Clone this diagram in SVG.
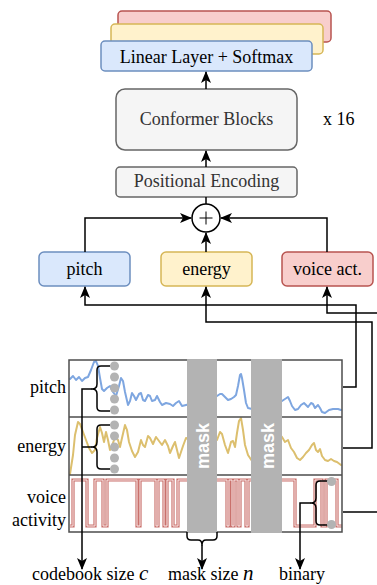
<svg xmlns="http://www.w3.org/2000/svg" width="377" height="585" viewBox="0 0 377 585">
  <style>
    .t { font-family: "Liberation Serif", "Times New Roman", serif; font-size: 18px; fill: #000; }
    .tc { text-anchor: middle; }
    .grey { fill: #333333; }
    .math { font-style: italic; font-size: 21px; }
    .box-blue { fill: #dae8fc; stroke: #6c8ebf; stroke-width: 1.5; }
    .box-yellow { fill: #fff2cc; stroke: #d6b656; stroke-width: 1.5; }
    .box-red { fill: #f8cecc; stroke: #b85450; stroke-width: 1.5; }
    .box-grey { fill: #f5f5f5; stroke: #666666; stroke-width: 1.5; }
    .wire { fill: none; stroke: #000; stroke-width: 1.5; }
    .arrow { fill: none; stroke: #000; stroke-width: 1.5; marker-end: url(#tip); }
    .brace { fill: none; stroke: #000; stroke-width: 1.5; stroke-linejoin: round; }
    .dot { fill: #b3b3b3; }
    .curve { fill: none; stroke-width: 2; stroke-linejoin: round; stroke-linecap: round; }
    .bar { fill: #b3b3b3; }
    .masktxt { font-family: "Liberation Sans", Arial, sans-serif; font-weight: bold; font-size: 18px; fill: #fff; text-anchor: middle; }
  </style>
  <defs>
    <marker id="tip" viewBox="0 0 12 10" markerWidth="12" markerHeight="10" refX="11" refY="5" orient="auto" markerUnits="userSpaceOnUse">
      <path d="M0,0 L12,5 L0,10 L3,5 Z" fill="#000"/>
    </marker>
    <clipPath id="plotClip">
      <rect x="69" y="360" width="273" height="172"/>
    </clipPath>
    <path id="vaWave" d="M70,526 H73 V480 H87 V526 H95 V480 H103 V526 H107 V480 H137 V526 H140 V480 H156 V526 H158 V480 H164 V526 H167 V480 H173 V526 H178 V480 H190 M214,480 H227 V526 H229 V480 H232 V526 H234 V480 H238 V526 H240 V480 H246 V526 H248 V480 H254 M279,480 H295 V526 H315 V480 H322 V526 H326 V480 H337 V526 H342"/>
  </defs>

  <!-- output heads (stacked) -->
  <g id="head-stack">
    <rect class="box-red" x="118" y="11" width="213" height="31" rx="4"/>
    <rect class="box-yellow" x="111" y="24" width="212" height="30" rx="4"/>
  </g>
  <g id="linear-softmax">
    <rect class="box-blue" x="101" y="41" width="211" height="30" rx="4"/>
    <text class="t tc" x="206.5" y="62.5">Linear Layer + Softmax</text>
  </g>

  <g id="conformer">
    <rect class="box-grey" x="116" y="89" width="181" height="61" rx="9"/>
    <text class="t tc grey" x="206.5" y="125">Conformer Blocks</text>
  </g>
  <text id="repeat" class="t" x="323" y="125">x 16</text>

  <g id="posenc">
    <rect class="box-grey" x="116" y="167" width="181" height="30" rx="4"/>
    <text class="t tc grey" x="206.5" y="187">Positional Encoding</text>
  </g>

  <g id="sum">
    <circle cx="206" cy="218" r="14" fill="#fff" stroke="#000" stroke-width="1.5"/>
    <path d="M199.5,218 H212.5 M206,211.5 V224.5" stroke="#000" stroke-width="1" fill="none"/>
  </g>

  <g id="pitch-emb">
    <rect class="box-blue" x="39" y="252" width="91" height="34" rx="5"/>
    <text class="t tc" x="84.5" y="275">pitch</text>
  </g>
  <g id="energy-emb">
    <rect class="box-yellow" x="161" y="252" width="91" height="34" rx="5"/>
    <text class="t tc" x="206.5" y="275">energy</text>
  </g>
  <g id="voice-emb">
    <rect class="box-red" x="282" y="252" width="91" height="34" rx="5"/>
    <text class="t tc" x="327.5" y="275">voice act.</text>
  </g>

  <!-- feature plot -->
  <g id="plot">
    <rect x="69" y="360" width="273" height="172" fill="#fff"/>
    <g clip-path="url(#plotClip)">
      <polyline class="curve" stroke="#7ea6e0" points="70,379 73,376 76,380 79,377 82,381 85,378 88,377 91,370 94,362 96,361 98,366 100,378 102,389 104,391 107,388 110,386 113,392 116,396 119,386 121,378 123,381 125,392 128,405 130,401 132,393 134,396 136,400 139,394 141,393 143,400 145,401 148,395 150,396 152,401 155,400 157,396 160,402 162,405 166,403 170,404 173,406 176,403 179,401 182,406 186,405 190,404 214,398 217,396 220,394 222,394 225,397 228,400 231,399 234,397 236,395 238,386 240,375 241,374 242,378 244,390 246,403 248,408 252,409 279,402 282,401 285,399 288,397 290,401 292,406 295,410 298,409 301,405 304,403 306,405 308,407 311,403 313,404 315,408 318,405 320,408 322,412 325,413 329,410 333,409 338,409 341,410"/>
      <polyline class="curve" stroke="#dcbf6e" points="70,474 73,455 75,435 78,422 80,424 83,432 86,440 89,448 92,453 95,450 97,438 100,427 102,433 104,442 106,432 108,440 110,450 112,446 115,437 118,440 120,447 122,438 125,425 127,430 129,442 132,451 135,457 138,452 141,440 143,445 145,447 148,436 150,438 153,444 156,437 159,441 162,445 165,440 168,446 170,453 173,446 175,442 177,450 179,458 181,452 183,446 186,438 190,440 214,436 217,440 220,432 222,434 225,445 228,453 231,442 233,441 235,447 237,433 239,421 241,418 243,430 245,445 248,455 252,461 279,434 282,437 285,442 288,440 291,448 294,452 297,458 300,460 303,457 306,453 309,450 312,445 314,443 316,450 318,452 320,449 322,456 325,460 328,461 331,459 334,461 337,462 341,465"/>
      <g id="voice-wave">
        <use href="#vaWave" fill="none" stroke="#c9716c" stroke-width="3.2"/>
        <use href="#vaWave" fill="none" stroke="#fbeceb" stroke-width="1"/>
      </g>
    </g>
    <path d="M69,417 H342 M69,475 H342" stroke="#4d4d4d" stroke-width="1.5" fill="none"/>
    <rect x="69" y="360" width="273" height="172" fill="none" stroke="#4d4d4d" stroke-width="1.5"/>
    <rect class="bar" x="187" y="359" width="30" height="174"/>
    <rect class="bar" x="251" y="359" width="31" height="174"/>
    <text class="masktxt" transform="translate(209,446) rotate(-90)">mask</text>
    <text class="masktxt" transform="translate(273.5,446) rotate(-90)">mask</text>
  </g>

  <!-- row labels -->
  <g id="row-labels">
    <text class="t" x="66" y="393" text-anchor="end">pitch</text>
    <text class="t" x="66" y="452" text-anchor="end">energy</text>
    <text class="t" x="66" y="503" text-anchor="end">voice</text>
    <text class="t" x="66" y="525.5" text-anchor="end">activity</text>
  </g>

  <!-- codebook braces and sample points -->
  <g id="codebook-brace">
    <path class="brace" d="M110,366 H101 Q97,366 97,370 V384 Q97,389 92,389 Q97,389 97,394 V407 Q97,411 101,411 H110"/>
    <path class="brace" d="M110,425 H101 Q97,425 97,429 V442 Q97,447 92,447 Q97,447 97,452 V465 Q97,469 101,469 H110"/>
    <circle class="dot" cx="114.5" cy="366" r="4.5"/>
    <circle class="dot" cx="114.5" cy="377" r="4.5"/>
    <circle class="dot" cx="114.5" cy="388" r="4.5"/>
    <circle class="dot" cx="114.5" cy="399" r="4.5"/>
    <circle class="dot" cx="114.5" cy="410" r="4.5"/>
    <circle class="dot" cx="114.5" cy="425" r="4.5"/>
    <circle class="dot" cx="114.5" cy="436" r="4.5"/>
    <circle class="dot" cx="114.5" cy="447" r="4.5"/>
    <circle class="dot" cx="114.5" cy="458" r="4.5"/>
    <circle class="dot" cx="114.5" cy="469" r="4.5"/>
  </g>

  <g id="mask-brace">
    <path class="brace" d="M187,532 V536 Q187,540 191,540 H198 Q202,540 202,545 Q202,540 206,540 H213 Q217,540 217,536 V532"/>
  </g>

  <g id="binary-brace">
    <path class="brace" d="M331,481 H320 Q316,481 316,485 V498 Q316,503 311,503 Q316,503 316,508 V521 Q316,525 320,525 H331"/>
    <circle class="dot" cx="331.5" cy="481.5" r="4.5"/>
    <circle class="dot" cx="331.5" cy="524.5" r="4.5"/>
  </g>

  <!-- connectors -->
  <g id="connectors">
    <path class="arrow" d="M206,167 V151"/>
    <path class="arrow" d="M206,89 V72"/>
    <path class="wire" d="M206,204 V197"/>
    <path class="arrow" d="M85,252 V218 H191"/>
    <path class="arrow" d="M206,252 V233"/>
    <path class="arrow" d="M327,252 V218 H221"/>
    <path class="arrow" d="M343,387 H356 V305 H85 V287"/>
    <path class="arrow" d="M343,448 H372 V322 H206 V287"/>
    <path class="arrow" d="M377,313 H327 V287"/>
    <path class="wire" d="M343,512 H377"/>
    <path class="arrow" d="M92,389 H82 V569"/>
    <path class="wire" d="M82,447 H92"/>
    <path class="arrow" d="M202,545 V569"/>
    <path class="arrow" d="M311,503 H300 V569"/>
  </g>

  <!-- bottom labels -->
  <g id="bottom-labels">
    <text class="t" x="32" y="580">codebook size <tspan class="math">c</tspan></text>
    <text class="t" x="168" y="580">mask size <tspan class="math">n</tspan></text>
    <text class="t tc" x="302" y="580">binary</text>
  </g>
</svg>
